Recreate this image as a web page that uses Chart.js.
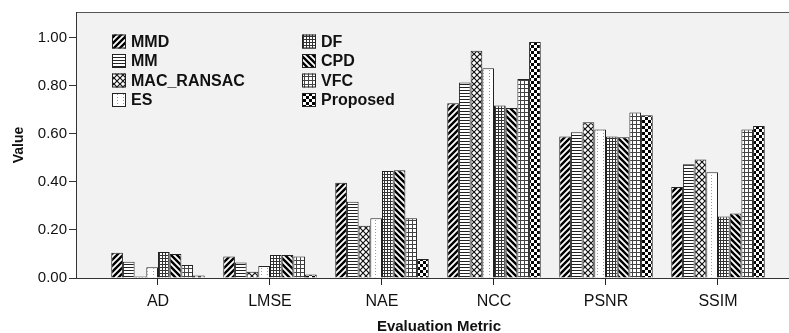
<!DOCTYPE html>
<html>
<head>
<meta charset="utf-8">
<script src="https://cdn.jsdelivr.net/npm/chart.js@4/dist/chart.umd.min.js"></script>
<style>
  html, body { margin: 0; padding: 0; background: #fff; }
  #wrap { width: 789px; height: 333px; overflow: hidden; position: relative; }
  canvas { display: block; }
</style>
</head>
<body>
<div id="wrap"><canvas id="chart" width="810" height="333" style="width:810px;height:333px"></canvas></div>
<script>
  // categorias y valores
  const categories = ['AD', 'LMSE', 'NAE', 'NCC', 'PSNR', 'SSIM'];
  const seriesNames = ['MMD', 'MM', 'MAC_RANSAC', 'ES', 'DF', 'CPD', 'VFC', 'Proposed'];
  const mmd = [0.105, 0.090, 0.397, 0.728, 0.589, 0.379];
  const mm = [0.068, 0.065, 0.318, 0.814, 0.607, 0.474];
  const macRansac = [0.006, 0.026, 0.218, 0.947, 0.649, 0.494];
  const es = [0.045, 0.050, 0.249, 0.874, 0.619, 0.440];
  const df = [0.108, 0.096, 0.446, 0.719, 0.589, 0.256];
  const cpd = [0.100, 0.096, 0.449, 0.708, 0.586, 0.269];
  const vfc = [0.054, 0.090, 0.249, 0.829, 0.689, 0.619];
  const proposed = [0.010, 0.015, 0.079, 0.983, 0.678, 0.633];
  const yTicks = [0, 0.2, 0.4, 0.6, 0.8, 1.0];

  const FONT = "'Liberation Sans', Arial, sans-serif";

  // patrones en blanco y negro tipo SPSS
  function makePattern(w, h, draw) {
    const c = document.createElement('canvas');
    c.width = w; c.height = h;
    const g = c.getContext('2d');
    g.fillStyle = '#fff';
    g.fillRect(0, 0, w, h);
    draw(g, w, h);
    return document.getElementById('chart').getContext('2d').createPattern(c, 'repeat');
  }

  const patterns = [
    // MMD: diagonal /
    makePattern(6, 6, (g) => {
      g.strokeStyle = '#000'; g.lineWidth = 2.4;
      g.beginPath();
      g.moveTo(-1, 1); g.lineTo(1, -1);
      g.moveTo(0, 6); g.lineTo(6, 0);
      g.moveTo(5, 7); g.lineTo(7, 5);
      g.stroke();
    }),
    // MM: horizontales
    makePattern(3, 3, (g) => {
      g.fillStyle = '#222'; g.fillRect(0, 0, 3, 1);
    }),
    // MAC_RANSAC: rombos
    makePattern(6, 6, (g) => {
      g.strokeStyle = '#111'; g.lineWidth = 1.2;
      g.beginPath();
      g.moveTo(0, 0); g.lineTo(6, 6);
      g.moveTo(0, 6); g.lineTo(6, 0);
      g.stroke();
    }),
    // ES: puntos grises
    makePattern(6, 3, (g) => {
      g.fillStyle = '#999'; g.fillRect(3, 1, 1, 1);
    }),
    // DF: rejilla fina
    makePattern(3, 3, (g) => {
      g.fillStyle = '#333'; g.fillRect(0, 0, 3, 1); g.fillRect(0, 0, 1, 3);
    }),
    // CPD: diagonal invertida
    makePattern(6, 6, (g) => {
      g.strokeStyle = '#000'; g.lineWidth = 2.4;
      g.beginPath();
      g.moveTo(-1, 5); g.lineTo(1, 7);
      g.moveTo(0, 0); g.lineTo(6, 6);
      g.moveTo(5, -1); g.lineTo(7, 1);
      g.stroke();
    }),
    // VFC: rejilla mas abierta
    makePattern(4, 4, (g) => {
      g.fillStyle = '#444'; g.fillRect(0, 0, 4, 1); g.fillRect(0, 0, 1, 4);
    }),
    // Proposed: damero
    makePattern(6, 6, (g) => {
      g.fillStyle = '#000'; g.fillRect(0, 0, 3, 3); g.fillRect(3, 3, 3, 3);
    })
  ];

  const allValues = [mmd, mm, macRansac, es, df, cpd, vfc, proposed];

  const datasets = seriesNames.map((name, i) => ({
    label: name,
    data: allValues[i].map((v, k) => ({ x: k, y: v })),
    backgroundColor: patterns[i],
    borderColor: '#222',
    borderWidth: 1,
    categoryPercentage: 0.835,
    barPercentage: 1.0
  }));

  // fondo gris del area y marco
  const frame = {
    id: 'frame',
    beforeDraw(chart) {
      const { ctx, chartArea: a } = chart;
      ctx.save();
      ctx.fillStyle = '#f2f2f2';
      ctx.fillRect(a.left, a.top, a.right - a.left, a.bottom - a.top);
      ctx.strokeStyle = '#555';
      ctx.lineWidth = 1;
      ctx.strokeRect(a.left + 0.5, a.top + 0.5, a.right - a.left, a.bottom - a.top);
      ctx.restore();
    }
  };

  // leyenda en dos columnas dentro del area
  const legendBox = {
    id: 'legendBox',
    afterDatasetsDraw(chart) {
      const { ctx } = chart;
      const colX = [112, 302];
      ctx.save();
      ctx.font = 'bold 16px ' + FONT;
      ctx.textBaseline = 'middle';
      chart.data.datasets.forEach((ds, i) => {
        const x = colX[Math.floor(i / 4)];
        const y = 41.5 + (i % 4) * 19.5;
        ctx.fillStyle = ds.backgroundColor;
        ctx.fillRect(x, y - 7, 14, 14);
        ctx.strokeStyle = '#222';
        ctx.lineWidth = 1;
        ctx.strokeRect(x + 0.5, y - 6.5, 13, 13);
        ctx.fillStyle = '#111';
        ctx.fillText(ds.label, x + 19, y + 1);
      });
      ctx.restore();
    }
  };

  new Chart(document.getElementById('chart'), {
    type: 'bar',
    data: { datasets },
    plugins: [frame, legendBox],
    options: {
      responsive: false,
      animation: false,
      devicePixelRatio: 1,
      layout: { padding: { top: 12, right: 8, left: 0, bottom: 0 } },
      plugins: { legend: { display: false }, tooltip: { enabled: false } },
      scales: {
        x: {
          type: 'linear',
          offset: false,
          min: -0.7321,
          max: 5.75,
          afterBuildTicks: (axis) => { axis.ticks = categories.map((c, i) => ({ value: i })); },
          afterFit: (axis) => { axis.height = 55; },
          ticks: {
            autoSkip: false,
            maxRotation: 0,
            padding: 7,
            color: '#111',
            font: { family: FONT, size: 16 },
            callback: (v) => categories[v]
          },
          grid: { offset: false, drawOnChartArea: false, drawTicks: true, tickLength: 7, tickColor: '#222', color: '#222' },
          border: { display: true, color: '#333' },
          title: {
            display: true,
            text: 'Evaluation Metric',
            color: '#111',
            font: { family: FONT, size: 15, weight: 'bold', lineHeight: 0.8 },
            padding: { top: 0, bottom: 0 }
          }
        },
        y: {
          min: 0,
          max: 1.108,
          afterBuildTicks: (axis) => { axis.ticks = yTicks.map((v) => ({ value: v })); },
          afterFit: (axis) => { axis.width = 76; },
          ticks: {
            padding: 2,
            color: '#111',
            font: { family: FONT, size: 15 },
            callback: (v) => Number(v).toFixed(2)
          },
          grid: { drawOnChartArea: false, drawTicks: true, tickLength: 7, color: '#333' },
          border: { display: true, color: '#333' },
          title: {
            display: true,
            text: 'Value',
            color: '#111',
            font: { family: FONT, size: 14, weight: 'bold', lineHeight: 1 },
            padding: { top: 12, bottom: 0 }
          }
        }
      }
    }
  });
</script>
</body>
</html>
